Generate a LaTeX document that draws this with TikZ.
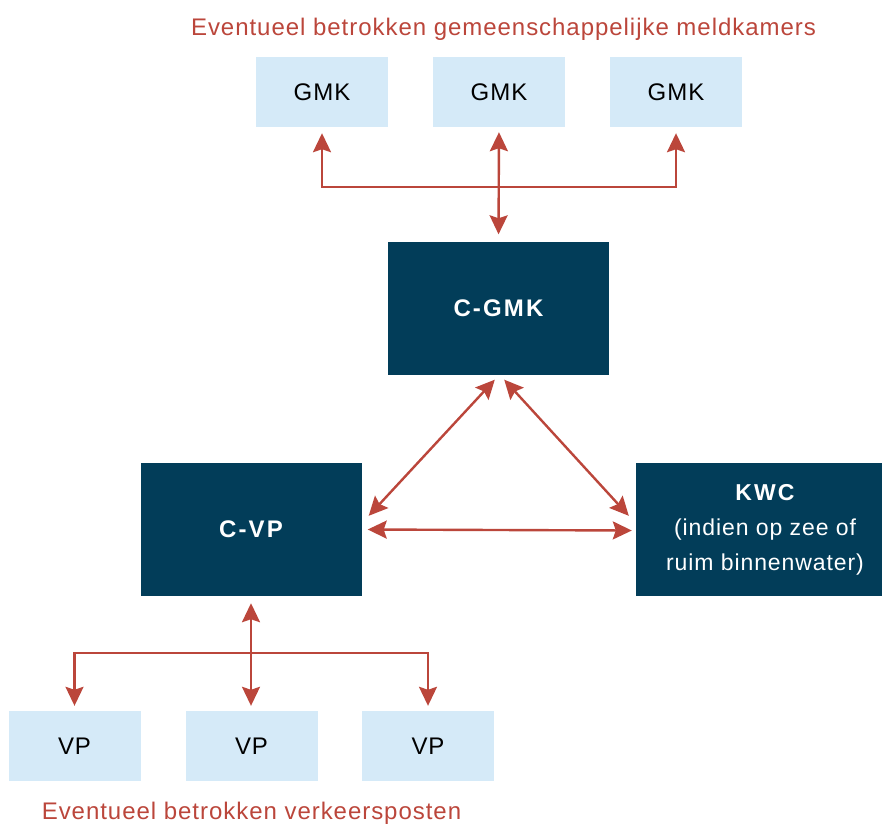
\documentclass[tikz,border=0pt]{standalone}
\usepackage{fontspec}
\setmainfont{Liberation Sans}[LetterSpace=4]
\newfontfamily\boldwide{Liberation Sans}[LetterSpace=9,BoldFont=*,UprightFont=* Bold]
\usetikzlibrary{arrows.meta,calc}
\definecolor{navy}{HTML}{023D59}
\definecolor{lblue}{HTML}{D5EAF8}
\definecolor{rred}{HTML}{BB463B}
\begin{document}
\begin{tikzpicture}[x=1pt,y=-1pt,
  light/.style={fill=lblue,draw=none,minimum width=132pt,minimum height=70pt,inner sep=0pt,font=\fontsize{24}{28}\selectfont,text=black},
  dark/.style={fill=navy,draw=none,minimum width=221pt,minimum height=133pt,inner sep=0pt,text=white,font=\fontsize{23}{35}\selectfont},
  arr/.style={draw=rred,line width=2.4pt,{Stealth[length=19pt,width=18pt,inset=3pt]}-{Stealth[length=19pt,width=18pt,inset=3pt]}},
  captxt/.style={text=rred,font=\fontsize{24}{28}\selectfont,inner sep=0pt,anchor=base}]
\useasboundingbox (0,0) rectangle (882,823);
\clip (0,0) rectangle (882,823);
\node[captxt] (t1) at (503.5,35) {Eventueel betrokken gemeenschappelijke meldkamers};
\node[captxt] (t2) at (251.5,819) {Eventueel betrokken verkeersposten};
\node[light] (g1) at (322,92) {GMK};
\node[light] (g2) at (499,92) {GMK};
\node[light] (g3) at (676,92) {GMK};
\node[dark] (cg) at (498.5,308) {\fontsize{24}{28}\boldwide C-GMK};
\node[dark] (cvp) at (251,529.5) {\fontsize{24}{28}\boldwide C-VP};
\node[dark,minimum width=258pt,align=center] (kwc) at (765,529.5) {{\boldwide KWC}\\(indien op zee of\\ruim binnenwater)};
\node[light] (v1) at (74.5,746) {VP};
\node[light] (v2) at (251.5,746) {VP};
\node[light] (v3) at (428,746) {VP};
\coordinate (jt) at (499,187);
\coordinate (jb) at (251,653);
\draw[arr,shorten <=6pt,shorten >=6pt] (g1.south) -- (g1.south |- jt) -- (g3.south |- jt) -- (g3.south);
\draw[arr,shorten <=5pt,shorten >=7pt] (g2.south) -- (cg.north);
\draw[arr] ($(cg.south west)+(107,5)$) -- ($(cvp.north east)+(7,53)$);
\draw[arr] ($(cg.south east)+(-105,5)$) -- ($(kwc.north west)+(-7,53)$);
\draw[arr] ($(cvp.east)+(6,0)$) -- ($(kwc.west)+(-4,1)$);
\draw[arr,shorten <=7pt,shorten >=5pt] (cvp.south) -- (cvp.south |- v2.north);
\draw[arr,shorten <=5pt,shorten >=5pt] (v1.north) -- (v1.north |- jb) -- (v3.north |- jb) -- (v3.north);
\end{tikzpicture}
\end{document}
